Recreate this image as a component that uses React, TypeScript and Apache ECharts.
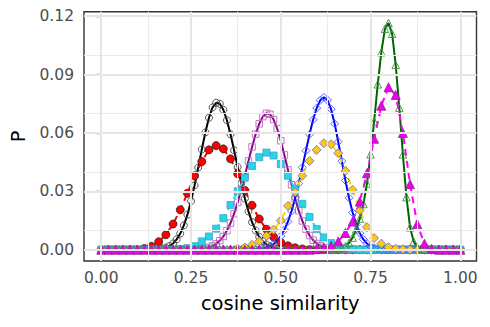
import React, { useEffect, useRef } from "react";
import * as echarts from "echarts";

// x positions: solid curves sampled every 0.01, dashed series every 0.02
const X_FINE: number[] = Array.from({ length: 101 }, (_, i) => i / 100);
const X_COARSE: number[] = Array.from({ length: 51 }, (_, i) => i / 50);

// solid curves (0.01 grid, 101 values)
const BLACK = [
  0, 0, 0, 0, 0, 0, 0, 0, 0, 0,
  0, 0, 0, 0, 0.0001, 0.0001, 0.0003, 0.0006, 0.0011, 0.0019,
  0.0032, 0.0053, 0.0083, 0.0125, 0.018, 0.025, 0.0331, 0.0422, 0.0515, 0.0603,
  0.0678, 0.0731, 0.0755, 0.075, 0.0719, 0.0665, 0.0593, 0.0511, 0.0425, 0.0341,
  0.0263, 0.0197, 0.0142, 0.0099, 0.0066, 0.0043, 0.0027, 0.0016, 0.0009, 0.0005,
  0.0003, 0.0001, 0, 0, 0, 0, 0, 0, 0, 0,
  0, 0, 0, 0, 0, 0, 0, 0, 0, 0,
  0, 0, 0, 0, 0, 0, 0, 0, 0, 0,
  0, 0, 0, 0, 0, 0, 0, 0, 0, 0,
  0, 0, 0, 0, 0, 0, 0, 0, 0, 0,
  0,
];
const PURPLE = [
  0, 0, 0, 0, 0, 0, 0, 0, 0, 0,
  0, 0, 0, 0, 0, 0, 0, 0, 0, 0,
  0, 0, 0, 0, 0, 0, 0, 0, 0.0004, 0.0007,
  0.0012, 0.0019, 0.003, 0.0046, 0.0068, 0.0098, 0.0137, 0.0185, 0.0243, 0.0309,
  0.0381, 0.0456, 0.0528, 0.0594, 0.0647, 0.0684, 0.0701, 0.0696, 0.0669, 0.0622,
  0.056, 0.0487, 0.041, 0.0334, 0.0263, 0.0201, 0.0148, 0.0106, 0.0073, 0.0049,
  0.0032, 0.002, 0.0012, 0.0007, 0.0004, 0.0002, 0.0001, 0, 0, 0,
  0, 0, 0, 0, 0, 0, 0, 0, 0, 0,
  0, 0, 0, 0, 0, 0, 0, 0, 0, 0,
  0, 0, 0, 0, 0, 0, 0, 0, 0, 0,
  0,
];
const BLUE = [
  0, 0, 0, 0, 0, 0, 0, 0, 0, 0,
  0, 0, 0, 0, 0, 0, 0, 0, 0, 0,
  0, 0, 0, 0, 0, 0, 0, 0, 0, 0,
  0, 0, 0, 0, 0, 0, 0, 0, 0, 0,
  0, 0, 0, 0.0002, 0.0003, 0.0006, 0.0011, 0.0018, 0.0029, 0.0046,
  0.007, 0.0102, 0.0145, 0.0199, 0.0265, 0.034, 0.0423, 0.0509, 0.0593, 0.0668,
  0.0728, 0.0768, 0.0783, 0.0769, 0.0722, 0.0647, 0.0555, 0.0455, 0.0356, 0.0267,
  0.0191, 0.013, 0.0085, 0.0053, 0.0032, 0.0018, 0.001, 0.0005, 0.0003, 0.0001,
  0, 0, 0, 0, 0, 0, 0, 0, 0, 0,
  0, 0, 0, 0, 0, 0, 0, 0, 0, 0,
  0,
];
const GREEN = [
  0, 0, 0, 0, 0, 0, 0, 0, 0, 0,
  0, 0, 0, 0, 0, 0, 0, 0, 0, 0,
  0, 0, 0, 0, 0, 0, 0, 0, 0, 0,
  0, 0, 0, 0, 0, 0, 0, 0, 0, 0,
  0, 0, 0, 0, 0, 0, 0, 0, 0, 0,
  0, 0, 0, 0, 0, 0, 0, 0, 0, 0,
  0, 0, 0, 0, 0, 0, 0.0004, 0.001, 0.0018, 0.0035,
  0.0062, 0.0105, 0.016, 0.0235, 0.034, 0.049, 0.066, 0.085, 0.1015, 0.1135,
  0.1165, 0.111, 0.095, 0.073, 0.049, 0.027, 0.0115, 0.0042, 0.0012, 0.0003,
  0, 0, 0, 0, 0, 0, 0, 0, 0, 0,
  0,
];

// dashed series (0.02 grid, 51 values)
const RED = [
  0, 0, 0, 0, 0, 0, 0.0006, 0.0017, 0.0041, 0.0077,
  0.0132, 0.0205, 0.029, 0.038, 0.0453, 0.0513, 0.0535, 0.0518, 0.0467, 0.039,
  0.0305, 0.0228, 0.0158, 0.0105, 0.0065, 0.0037, 0.002, 0.001, 0.0004, 0,
  0, 0, 0, 0, 0, 0, 0, 0, 0, 0,
  0, 0, 0, 0, 0, 0, 0, 0, 0, 0,
  0,
];
const CYAN = [
  0, 0, 0, 0, 0, 0, 0, 0, 0, 0,
  0, 0.0003, 0.0008, 0.0018, 0.0043, 0.0068, 0.0108, 0.0162, 0.023, 0.03,
  0.037, 0.043, 0.0475, 0.0499, 0.0484, 0.044, 0.038, 0.031, 0.0236, 0.0168,
  0.0106, 0.0063, 0.0034, 0.0017, 0.0007, 0.0003, 0, 0, 0, 0,
  0, 0, 0, 0, 0, 0, 0, 0, 0, 0,
  0,
];
const GOLD = [
  0, 0, 0, 0, 0, 0, 0, 0, 0, 0,
  0, 0, 0, 0, 0, 0, 0, 0, 0, 0.0006,
  0.0012, 0.0025, 0.0043, 0.007, 0.0103, 0.015, 0.0225, 0.0296, 0.038, 0.0456,
  0.0513, 0.0547, 0.0542, 0.0496, 0.0405, 0.0308, 0.0202, 0.0116, 0.006, 0.0031,
  0.0013, 0.0005, 0.0002, 0, 0, 0, 0, 0, 0, 0,
  0,
];
const MAGENTA = [
  0, 0, 0, 0, 0, 0, 0, 0, 0, 0,
  0, 0, 0, 0, 0, 0, 0, 0, 0, 0,
  0, 0, 0, 0, 0, 0, 0, 0, 0, 0,
  0.0003, 0.001, 0.002, 0.0043, 0.0086, 0.0145, 0.0248, 0.0393, 0.057, 0.074,
  0.0835, 0.0795, 0.06, 0.0337, 0.0132, 0.0031, 0.0005, 0, 0, 0,
  0,
];

const X_TICKS = [0, 0.25, 0.5, 0.75, 1];
const Y_TICKS = [0, 0.03, 0.06, 0.09, 0.12];
const X_MINOR = [0.125, 0.375, 0.625, 0.875];
const Y_MINOR = [0.015, 0.045, 0.075, 0.105];

const FONT = "DejaVu Sans";

const pairs = (xs: number[], ys: number[]) => xs.map((x, i) => [x, ys[i]]);

export default function App() {
  const ref = useRef<HTMLDivElement>(null);

  useEffect(() => {
    if (!ref.current) return;
    const chart = echarts.init(ref.current, undefined, { renderer: "svg" });

    const gridLines: any[] = [];
    X_MINOR.forEach((v) => gridLines.push({ xAxis: v, lineStyle: { color: "#ebebeb", width: 1, type: "solid" } }));
    Y_MINOR.forEach((v) => gridLines.push({ yAxis: v, lineStyle: { color: "#ebebeb", width: 1, type: "solid" } }));
    X_TICKS.forEach((v) => gridLines.push({ xAxis: v, lineStyle: { color: "#e6e6e6", width: 2, type: "solid" } }));
    Y_TICKS.forEach((v) => gridLines.push({ yAxis: v, lineStyle: { color: "#e6e6e6", width: 2, type: "solid" } }));

    const solid = (name: string, ys: number[], line: string, symbol: string, border: string, size: number) => ({
      name,
      type: "line",
      data: pairs(X_FINE, ys),
      z: 3,
      silent: true,
      showSymbol: true,
      symbol,
      symbolSize: size,
      lineStyle: { color: line, width: 2, type: "solid" },
      itemStyle: { color: "rgba(0,0,0,0)", borderColor: border, borderWidth: 0.9 },
    });
    const dashed = (name: string, ys: number[], line: string, symbol: string, fill: string, border: string, size: number) => ({
      name,
      type: "line",
      data: pairs(X_COARSE, ys),
      z: 3,
      silent: true,
      showSymbol: true,
      symbol,
      symbolSize: size,
      lineStyle: { color: line, width: 2, type: [7, 5] },
      itemStyle: { color: fill, borderColor: border, borderWidth: 0.8 },
    });

    chart.setOption({
      animation: false,
      backgroundColor: "#ffffff",
      grid: {
        left: 84,
        right: 13.5,
        top: 11.7,
        bottom: 66,
        show: true,
        borderColor: "#333333",
        borderWidth: 1.4,
        backgroundColor: "transparent",
      },
      xAxis: {
        type: "value",
        min: -0.048,
        max: 1.045,
        name: "cosine similarity",
        nameLocation: "middle",
        nameGap: 32,
        nameTextStyle: { fontFamily: FONT, fontSize: 19.5, color: "#000000" },
        axisLine: { show: false },
        splitLine: { show: false },
        axisTick: { show: true, length: 5.5, customValues: X_TICKS, lineStyle: { color: "#333333", width: 1.3 } },
        axisLabel: {
          customValues: X_TICKS,
          margin: 9,
          fontFamily: FONT,
          fontSize: 15.5,
          color: "#4d4d4d",
          formatter: (v: number) => v.toFixed(2),
        },
      },
      yAxis: {
        type: "value",
        min: -0.0058,
        max: 0.1223,
        name: "P",
        nameLocation: "middle",
        nameGap: 56,
        nameRotate: 90,
        nameTextStyle: { fontFamily: FONT, fontSize: 19.5, color: "#000000" },
        axisLine: { show: false },
        splitLine: { show: false },
        axisTick: { show: true, length: 5.5, customValues: Y_TICKS, lineStyle: { color: "#333333", width: 1.3 } },
        axisLabel: {
          customValues: Y_TICKS,
          margin: 10,
          fontFamily: FONT,
          fontSize: 15.5,
          color: "#4d4d4d",
          formatter: (v: number) => v.toFixed(2),
        },
      },
      series: [
        {
          name: "grid",
          type: "line",
          data: [],
          z: 1,
          silent: true,
          showSymbol: false,
          markLine: { silent: true, symbol: "none", label: { show: false }, data: gridLines, animation: false },
        },
        solid("black", BLACK, "#000000", "circle", "#444444", 7),
        dashed("red", RED, "#ff0000", "circle", "#ff0000", "#222222", 8),
        solid("purple", PURPLE, "#8b008b", "rect", "#b86ab8", 6.5),
        dashed("cyan", CYAN, "#00e5ee", "rect", "#29d3ea", "#3aa6c6", 7),
        solid("blue", BLUE, "#0000ff", "diamond", "#4a5aff", 8),
        dashed("gold", GOLD, "#ffd700", "diamond", "#f7c81e", "#7a6ac0", 9),
        solid("green", GREEN, "#006400", "triangle", "#3f8f3f", 7.5),
        dashed("magenta", MAGENTA, "#ff00ff", "triangle", "#ee00ee", "#8b2a8b", 9),
      ],
    });

    return () => chart.dispose();
  }, []);

  return <div ref={ref} style={{ width: 490, height: 327, position: "absolute", left: 0, top: 0 }} />;
}
